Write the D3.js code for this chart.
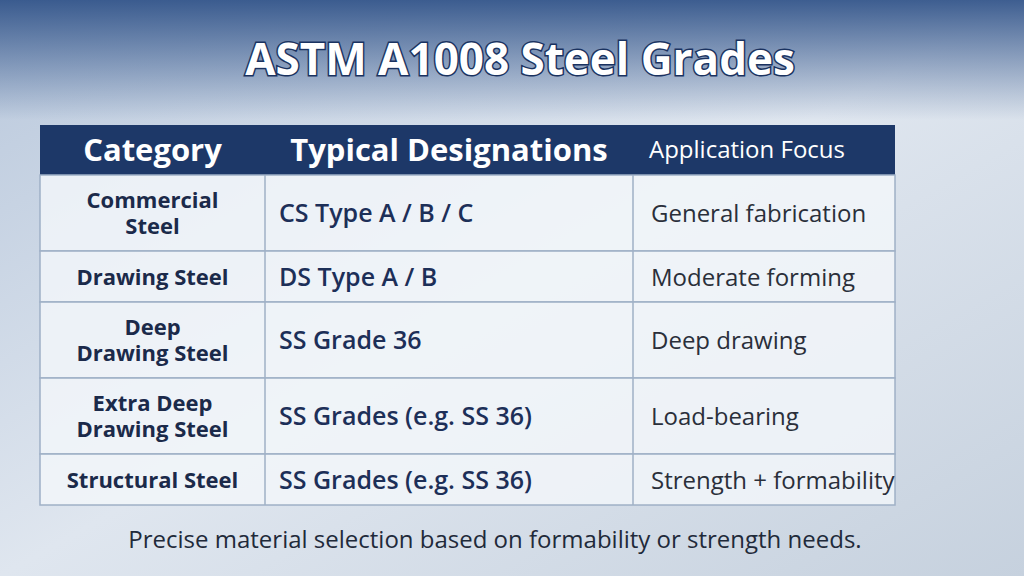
<!DOCTYPE html>
<html lang="en">
<head>
<meta charset="UTF-8">
<title>ASTM A1008 Steel Grades</title>
<style>
  body { margin: 0; }
  svg { display: block; font-family: "Open Sans", "Noto Sans", sans-serif; }
</style>
<script src="https://d3js.org/d3.v7.min.js"></script>
</head>
<body>
<script>
const title = "ASTM A1008 Steel Grades";
const headers = ["Category", "Typical Designations", "Application Focus"];
const categories = [["Commercial", "Steel"], ["Drawing Steel"], ["Deep", "Drawing Steel"], ["Extra Deep", "Drawing Steel"], ["Structural Steel"]];
const designations = ["CS Type A / B / C", "DS Type A / B", "SS Grade 36", "SS Grades (e.g. SS 36)", "SS Grades (e.g. SS 36)"];
const applications = ["General fabrication", "Moderate forming", "Deep drawing", "Load-bearing", "Strength + formability"];
const footer = "Precise material selection based on formability or strength needs.";

const W = 1024, H = 576;
const svg = d3.select("body").append("svg").attr("width", W).attr("height", H);
const defs = svg.append("defs");

const bg = defs.append("linearGradient").attr("id", "bg").attr("x1", 0).attr("y1", 0).attr("x2", 1).attr("y2", 1);
bg.append("stop").attr("offset", 0).attr("stop-color", "#b9c8dc");
bg.append("stop").attr("offset", 0.5).attr("stop-color", "#dfe6ef");
bg.append("stop").attr("offset", 1).attr("stop-color", "#c6d1de");
svg.append("rect").attr("width", W).attr("height", H).attr("fill", "url(#bg)");

const topGrad = defs.append("linearGradient").attr("id", "topband").attr("x1", 0).attr("y1", 0).attr("x2", 0).attr("y2", 1);
topGrad.append("stop").attr("offset", 0).attr("stop-color", "#2c4f86").attr("stop-opacity", 0.9);
topGrad.append("stop").attr("offset", 1).attr("stop-color", "#2c4f86").attr("stop-opacity", 0);
svg.append("rect").attr("width", W).attr("height", 120).attr("fill", "url(#topband)");

// title
svg.append("text").attr("x", 520).attr("y", 75).attr("text-anchor", "middle")
  .attr("font-size", 44).attr("font-weight", 700).attr("fill", "#fff")
  .style("paint-order", "stroke").attr("stroke", "#1a3260").attr("stroke-width", 3)
  .text(title);

// table geometry
const colEdges = [40, 265, 633, 895];
const headTop = 125, headH = 50;
const rowH = categories.map(c => 51 + 25 * (c.length - 1));
const rowY = d3.scaleOrdinal().domain(d3.range(rowH.length))
  .range(Array.from(d3.cumsum([0, ...rowH.slice(0, -1)])).map(v => headTop + headH + v));

svg.append("rect").attr("x", colEdges[0]).attr("y", headTop).attr("width", colEdges[3] - colEdges[0])
  .attr("height", headH).attr("fill", "#1d3868");

headers.forEach((h, i) => {
  svg.append("text")
    .attr("x", i === 2 ? colEdges[2] + 16 : (colEdges[i] + colEdges[i + 1]) / 2)
    .attr("y", headTop + headH / 2 + (i === 2 ? 8 : 11))
    .attr("text-anchor", i === 2 ? "start" : "middle")
    .attr("font-size", i === 2 ? 24 : 31).attr("font-weight", i === 2 ? 400 : 700)
    .attr("fill", "#fff").text(h);
});

const rows = svg.append("g").selectAll("g").data(categories).enter().append("g")
  .attr("transform", (d, i) => `translate(0,${rowY(i)})`);

rows.each(function (d, i) {
  const g = d3.select(this), h = rowH[i];
  g.append("rect").attr("x", colEdges[0]).attr("width", colEdges[3] - colEdges[0])
    .attr("height", h).attr("fill", "#f3f6fa").attr("fill-opacity", 0.82)
    .attr("stroke", "#9fb0c6").attr("stroke-width", 1.5);
  g.selectAll("line").data([colEdges[1], colEdges[2]]).enter().append("line")
    .attr("x1", x => x).attr("x2", x => x).attr("y1", 0).attr("y2", h)
    .attr("stroke", "#9fb0c6").attr("stroke-width", 1.5);
  const t = g.append("text").attr("text-anchor", "middle").attr("font-size", 22).attr("font-weight", 700)
    .attr("fill", "#1b2a4a");
  d.forEach((line, k) => {
    t.append("tspan").attr("x", (colEdges[0] + colEdges[1]) / 2)
      .attr("y", h / 2 + 8 + (k - (d.length - 1) / 2) * 26).text(line);
  });
  g.append("text").attr("x", colEdges[1] + 14).attr("y", h / 2 + 9)
    .attr("font-size", 25).attr("font-weight", 600).attr("fill", "#1d2f58").text(designations[i]);
  g.append("text").attr("x", colEdges[2] + 18).attr("y", h / 2 + 9)
    .attr("font-size", 24).attr("fill", "#2a2f3a").text(applications[i]);
});

svg.append("text").attr("x", 495).attr("y", 548).attr("text-anchor", "middle")
  .attr("font-size", 24).attr("fill", "#1f2a3a").text(footer);
</script>
</body>
</html>
